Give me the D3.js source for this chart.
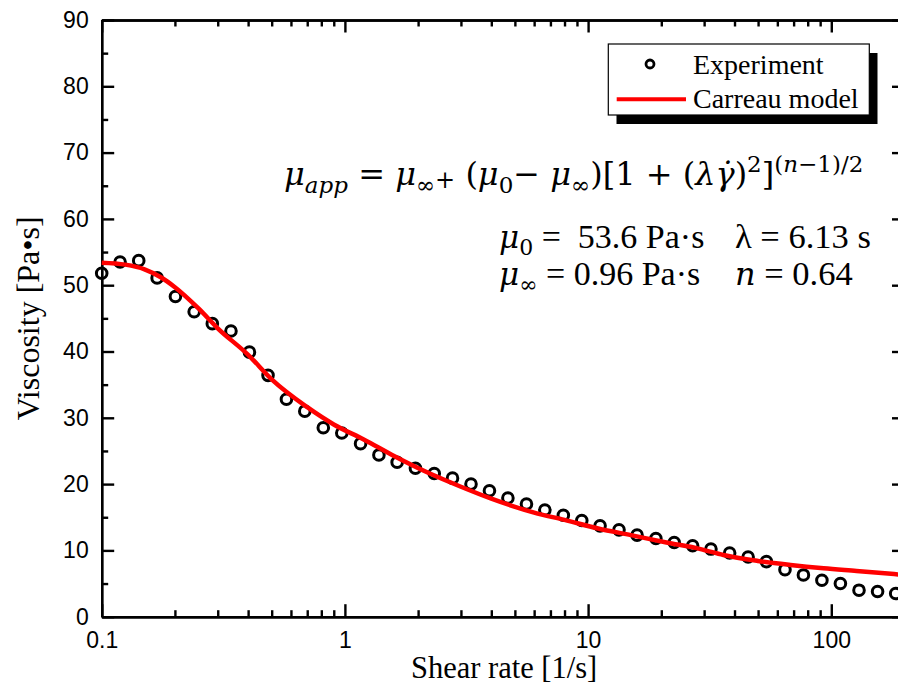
<!DOCTYPE html>
<html>
<head>
<meta charset="utf-8">
<script src="https://cdn.jsdelivr.net/npm/d3@7"></script>
<style>
  body { margin: 0; background: #fff; }
  svg { display: block; }
</style>
</head>
<body>
<svg id="chart" width="898" height="697"></svg>
<script>
// Measured viscosity vs. shear rate
const shearRate = [0.1, 0.119, 0.142, 0.169, 0.201, 0.240, 0.285, 0.340, 0.405, 0.483,
  0.575, 0.684, 0.815, 0.971, 1.16, 1.38, 1.64, 1.95, 2.33, 2.77,
  3.30, 3.93, 4.68, 5.58, 6.64, 7.91, 9.42, 11.2, 13.4, 15.9,
  19.0, 22.6, 26.9, 32.0, 38.2, 45.5, 54.1, 64.5, 76.8, 91.5,
  109, 130, 155, 184];
const viscosity = [51.8, 53.5, 53.7, 51.1, 48.3, 46.0, 44.2, 43.1, 39.9, 36.4,
  32.8, 31.0, 28.5, 27.7, 26.1, 24.4, 23.3, 22.4, 21.6, 20.9,
  20.0, 19.0, 17.9, 17.0, 16.1, 15.3, 14.5, 13.7, 13.1, 12.3,
  11.8, 11.2, 10.7, 10.2, 9.6, 9.0, 8.3, 7.1, 6.3, 5.5,
  5.0, 4.0, 3.8, 3.5];

// Carreau model curve
const modelRate = [0.1, 0.125, 0.15, 0.175, 0.2, 0.25, 0.3, 0.4, 0.5, 0.7,
  0.9, 1.2, 1.6, 2.2, 3, 4, 6, 8, 11, 15,
  21, 29, 36, 50, 68, 93, 127, 200];
const modelViscosity = [53.4, 53.1, 52.4, 51.2, 49.7, 46.5, 43.5, 39.5, 35.8, 31.6,
  29.0, 26.7, 24.2, 21.7, 19.6, 17.8, 15.7, 14.6, 13.3, 12.3,
  11.2, 10.2, 9.3, 8.4, 7.8, 7.3, 6.9, 6.3];

// Axis ticks
const xMajorTicks = [0.1, 1, 10, 100];
const xTickLabels = ["0.1", "1", "10", "100"];
const xMinorTicks = [0.2, 0.3, 0.4, 0.5, 0.6, 0.7, 0.8, 0.9,
  2, 3, 4, 5, 6, 7, 8, 9, 20, 30, 40, 50, 60, 70, 80, 90, 200];
const yMajorTicks = [0, 10, 20, 30, 40, 50, 60, 70, 80, 90];
const yMinorTicks = [5, 15, 25, 35, 45, 55, 65, 75, 85];

const seriesNames = ["Experiment", "Carreau model"];

const svg = d3.select("#chart");
const plot = { left: 101.7, right: 904.5, top: 20, bottom: 616.7 };

const x = d3.scaleLog().domain([0.1, 200]).range([plot.left, plot.right]);
const y = d3.scaleLinear().domain([0, 90]).range([plot.bottom, plot.top]);

const serif = "'Liberation Serif', 'Times New Roman', serif";
const mathFont = "'DejaVu Serif', serif";
const sans = "'Liberation Sans', Arial, sans-serif";

function styleAxis(g) {
  g.select(".domain").attr("stroke", "#000").attr("stroke-width", 2.4);
  g.selectAll(".tick line").attr("stroke", "#000").attr("stroke-width", 2.4);
  g.selectAll(".tick text").attr("fill", "#000")
    .attr("font-family", sans).attr("font-size", 23);
}

function addAxis(gen, tx, ty) {
  const g = svg.append("g").attr("transform", `translate(${tx},${ty})`).call(gen);
  styleAxis(g);
  return g;
}

// bottom axis
addAxis(d3.axisBottom(x).tickValues(xMinorTicks).tickFormat("").tickSize(-6.5).tickSizeOuter(0), 0, plot.bottom);
addAxis(d3.axisBottom(x).tickValues(xMajorTicks)
  .tickFormat((d, i) => xTickLabels[i]).tickSize(-12.5).tickPadding(15).tickSizeOuter(0), 0, plot.bottom);
// top axis
addAxis(d3.axisTop(x).tickValues(xMinorTicks).tickFormat("").tickSize(-6.5).tickSizeOuter(0), 0, plot.top);
addAxis(d3.axisTop(x).tickValues(xMajorTicks).tickFormat("").tickSize(-12.5).tickSizeOuter(0), 0, plot.top);
// left axis
addAxis(d3.axisLeft(y).tickValues(yMinorTicks).tickFormat("").tickSize(-6.5).tickSizeOuter(0), plot.left, 0);
addAxis(d3.axisLeft(y).tickValues(yMajorTicks).tickFormat(d3.format("d"))
  .tickSize(-12.5).tickPadding(13).tickSizeOuter(0), plot.left, 0);
// right axis
addAxis(d3.axisRight(y).tickValues(yMinorTicks).tickFormat("").tickSize(-6.5).tickSizeOuter(0), plot.right, 0);
addAxis(d3.axisRight(y).tickValues(yMajorTicks).tickFormat("").tickSize(-12.5).tickSizeOuter(0), plot.right, 0);

// axis titles
svg.append("text")
  .attr("x", (plot.left + plot.right) / 2 + 1).attr("y", 678)
  .attr("text-anchor", "middle")
  .attr("font-family", serif).attr("font-size", 30.5)
  .text("Shear rate [1/s]");

svg.append("text")
  .attr("transform", `translate(39,${(plot.top + plot.bottom) / 2}) rotate(-90)`)
  .attr("text-anchor", "middle")
  .attr("font-family", serif).attr("font-size", 32)
  .text("Viscosity [Pa•s]");

// experimental points
svg.append("g")
  .selectAll("circle")
  .data(shearRate.map((d, i) => [d, viscosity[i]]))
  .join("circle")
  .attr("cx", d => x(d[0]))
  .attr("cy", d => y(d[1]))
  .attr("r", 5.3)
  .attr("fill", "none")
  .attr("stroke", "#000")
  .attr("stroke-width", 3);

// model curve
const line = d3.line()
  .x(d => x(d[0]))
  .y(d => y(d[1]))
  .curve(d3.curveMonotoneX);

svg.append("path")
  .datum(modelRate.map((d, i) => [d, modelViscosity[i]]))
  .attr("d", line)
  .attr("fill", "none")
  .attr("stroke", "#ff0000")
  .attr("stroke-width", 4.5)
  .attr("stroke-linejoin", "round");

// legend
const legend = svg.append("g");
legend.append("rect").attr("x", 616.5).attr("y", 53).attr("width", 261).attr("height", 71).attr("fill", "#000");
legend.append("rect").attr("x", 608.3).attr("y", 44).attr("width", 261).attr("height", 71)
  .attr("fill", "#fff").attr("stroke", "#000").attr("stroke-width", 1.2);
legend.append("circle").attr("cx", 650).attr("cy", 64).attr("r", 4)
  .attr("fill", "none").attr("stroke", "#000").attr("stroke-width", 2.8);
legend.append("line").attr("x1", 616.7).attr("x2", 686).attr("y1", 99.3).attr("y2", 99.3)
  .attr("stroke", "#ff0000").attr("stroke-width", 4);
legend.append("text").attr("x", 693).attr("y", 73.5)
  .attr("font-family", serif).attr("font-size", 28).text(seriesNames[0]);
legend.append("text").attr("x", 693).attr("y", 107.5)
  .attr("font-family", serif).attr("font-size", 28).text(seriesNames[1]);

// equation and fitted parameters
function richText(px, py, size, family, parts) {
  const t = svg.append("text").attr("x", px).attr("y", py)
    .attr("font-family", family).attr("font-size", size)
    .attr("xml:space", "preserve").style("white-space", "pre");
  let shift = 0;
  parts.forEach(p => {
    const s = p.shift || 0;
    t.append("tspan")
      .attr("dy", s - shift)
      .attr("font-style", p.it ? "italic" : "normal")
      .attr("font-family", p.family || family)
      .attr("font-size", p.size || size)
      .text(p.t);
    shift = s;
  });
  return t;
}

richText(284, 185, 32, mathFont, [
  { t: "μ", it: true }, { t: "app", it: true, shift: 8, size: 23 },
  { t: " = " }, { t: "μ", it: true }, { t: "∞", shift: 8, size: 23 },
  { t: "+", shift: 3, size: 24 }, { t: " (" }, { t: "μ", it: true },
  { t: "0", shift: 8, size: 23 }, { t: "− " }, { t: "μ", it: true },
  { t: "∞", shift: 8, size: 23 }, { t: ")[1 + (" }, { t: "λγ̇", it: true },
  { t: ")" }, { t: "2", shift: -13, size: 23 }, { t: "]" },
  { t: "(", shift: -13, size: 23 }, { t: "n", it: true, shift: -13, size: 23 },
  { t: "−1)/2", shift: -13, size: 23 }
]);

richText(499, 248, 34, serif, [
  { t: "μ", it: true, family: mathFont, size: 31 }, { t: "0", shift: 7, size: 22, family: mathFont },
  { t: " =  53.6 Pa·s" }
]);
richText(735, 248, 34.5, serif, [{ t: "λ = 6.13 s" }]);
richText(499, 285, 34, serif, [
  { t: "μ", it: true, family: mathFont, size: 31 }, { t: "∞", shift: 7, size: 22, family: mathFont },
  { t: " = 0.96 Pa·s" }
]);
richText(735, 285, 34.5, serif, [{ t: "n", it: true, family: mathFont, size: 32 }, { t: " = 0.64" }]);
</script>
</body>
</html>
